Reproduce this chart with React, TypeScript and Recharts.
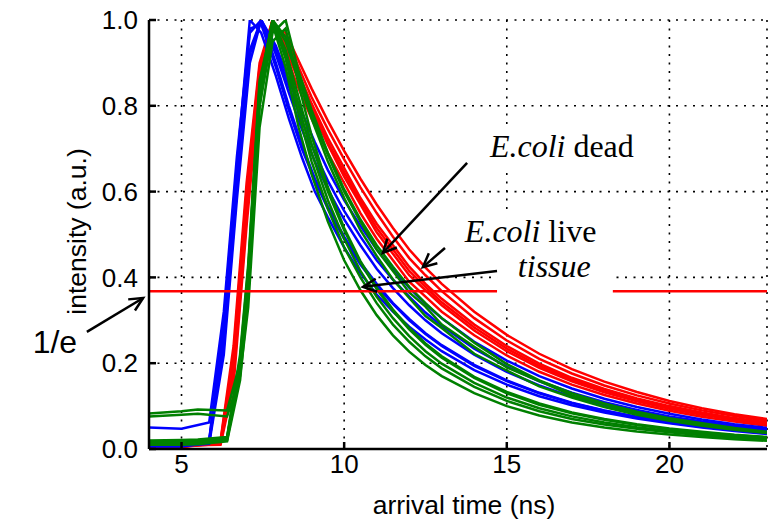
import {
  LineChart,
  Line,
  XAxis,
  YAxis,
  CartesianGrid,
  ReferenceLine,
  ReferenceArea,
  ReferenceDot,
  Label,
} from 'recharts';

// E.coli dead (red)
const redTimes = [4, 5, 6.2, 6.6, 7.0, 7.4, 7.8, 8.2, 8.6, 9.0, 9.5, 10, 10.5, 11, 11.5, 12, 12.5, 13, 14, 15, 16, 17, 18, 19, 20, 21, 22, 23];
const redCurves = [
  [0.004, 0.004, 0.02, 0.24, 0.62, 0.9, 1.0, 0.92, 0.84, 0.77, 0.69, 0.62, 0.55, 0.49, 0.44, 0.39, 0.355, 0.32, 0.265, 0.218, 0.18, 0.15, 0.126, 0.106, 0.089, 0.075, 0.064, 0.054],
  [0.006, 0.006, 0.015, 0.2, 0.58, 0.88, 1.0, 0.93, 0.86, 0.79, 0.71, 0.635, 0.57, 0.505, 0.455, 0.405, 0.37, 0.335, 0.276, 0.228, 0.189, 0.158, 0.132, 0.111, 0.094, 0.08, 0.068, 0.058],
  [0.005, 0.005, 0.012, 0.18, 0.56, 0.87, 0.99, 0.95, 0.875, 0.805, 0.725, 0.655, 0.585, 0.525, 0.475, 0.425, 0.385, 0.35, 0.29, 0.24, 0.199, 0.166, 0.14, 0.118, 0.1, 0.085, 0.072, 0.062],
  [0.008, 0.008, 0.01, 0.15, 0.52, 0.85, 0.99, 0.96, 0.89, 0.82, 0.745, 0.675, 0.61, 0.55, 0.495, 0.445, 0.405, 0.368, 0.305, 0.253, 0.21, 0.176, 0.148, 0.125, 0.106, 0.09, 0.077, 0.066],
  [0.004, 0.005, 0.014, 0.17, 0.54, 0.86, 0.98, 0.97, 0.905, 0.84, 0.765, 0.695, 0.63, 0.57, 0.515, 0.465, 0.423, 0.385, 0.32, 0.266, 0.222, 0.186, 0.157, 0.133, 0.112, 0.095, 0.081, 0.07],
  [0.006, 0.006, 0.018, 0.22, 0.6, 0.89, 1.0, 0.94, 0.865, 0.795, 0.715, 0.645, 0.578, 0.515, 0.465, 0.415, 0.378, 0.342, 0.283, 0.234, 0.194, 0.162, 0.136, 0.114, 0.097, 0.082, 0.07, 0.06],
];

// E.coli live (blue)
const blueTimes = [4, 5, 5.85, 6.3, 6.7, 7.1, 7.45, 7.9, 8.3, 8.7, 9.1, 9.5, 10, 10.5, 11, 11.5, 12, 12.5, 13, 14, 15, 16, 17, 18, 19, 20, 21, 22, 23];
const blueCurves = [
  [0.008, 0.008, 0.02, 0.3, 0.66, 1.0, 0.97, 0.87, 0.77, 0.68, 0.6, 0.54, 0.47, 0.41, 0.36, 0.32, 0.285, 0.255, 0.228, 0.184, 0.15, 0.123, 0.102, 0.085, 0.071, 0.06, 0.05, 0.042, 0.035],
  [0.05, 0.047, 0.062, 0.32, 0.68, 0.97, 1.0, 0.9, 0.8, 0.71, 0.63, 0.565, 0.495, 0.435, 0.385, 0.34, 0.303, 0.27, 0.242, 0.196, 0.16, 0.131, 0.108, 0.09, 0.075, 0.063, 0.053, 0.045, 0.038],
  [0.006, 0.006, 0.015, 0.26, 0.62, 0.93, 1.0, 0.92, 0.83, 0.745, 0.67, 0.605, 0.535, 0.475, 0.42, 0.375, 0.335, 0.3, 0.27, 0.22, 0.18, 0.148, 0.122, 0.101, 0.084, 0.07, 0.059, 0.05, 0.042],
  [0.01, 0.01, 0.018, 0.24, 0.6, 0.92, 1.0, 0.93, 0.845, 0.765, 0.69, 0.625, 0.555, 0.495, 0.44, 0.395, 0.355, 0.318, 0.287, 0.234, 0.192, 0.158, 0.131, 0.109, 0.091, 0.076, 0.064, 0.054, 0.046],
  [0.007, 0.007, 0.012, 0.22, 0.58, 0.9, 1.0, 0.94, 0.86, 0.785, 0.715, 0.65, 0.58, 0.52, 0.465, 0.418, 0.376, 0.338, 0.305, 0.25, 0.206, 0.17, 0.141, 0.117, 0.098, 0.082, 0.069, 0.058, 0.049],
  [0.012, 0.012, 0.02, 0.28, 0.64, 0.98, 0.99, 0.89, 0.79, 0.7, 0.625, 0.56, 0.49, 0.43, 0.38, 0.338, 0.3, 0.268, 0.24, 0.194, 0.158, 0.13, 0.107, 0.089, 0.074, 0.062, 0.052, 0.044, 0.037],
];

// tissue (green)
const greenTimes = [4, 5, 5.5, 6.4, 6.8, 7.05, 7.4, 7.8, 8.2, 8.6, 9.0, 9.5, 10, 10.5, 11, 11.5, 12, 12.5, 13, 14, 15, 16, 17, 18, 19, 20, 21, 22, 23];
const greenCurves = [
  [0.083, 0.088, 0.092, 0.09, 0.2, 0.38, 0.8, 0.97, 1.0, 0.88, 0.79, 0.69, 0.605, 0.535, 0.475, 0.425, 0.378, 0.34, 0.305, 0.248, 0.198, 0.16, 0.13, 0.106, 0.087, 0.072, 0.06, 0.049, 0.04],
  [0.076, 0.08, 0.082, 0.076, 0.17, 0.33, 0.75, 0.95, 0.98, 0.85, 0.73, 0.61, 0.515, 0.438, 0.376, 0.325, 0.282, 0.246, 0.216, 0.168, 0.133, 0.106, 0.085, 0.07, 0.058, 0.048, 0.04, 0.033, 0.028],
  [0.015, 0.016, 0.018, 0.025, 0.21, 0.42, 0.84, 1.0, 0.96, 0.87, 0.78, 0.685, 0.6, 0.53, 0.465, 0.415, 0.365, 0.332, 0.29, 0.238, 0.19, 0.158, 0.125, 0.104, 0.082, 0.07, 0.056, 0.047, 0.038],
  [0.012, 0.013, 0.014, 0.022, 0.19, 0.4, 0.83, 1.0, 0.91, 0.78, 0.67, 0.56, 0.47, 0.4, 0.34, 0.29, 0.25, 0.216, 0.188, 0.145, 0.112, 0.088, 0.07, 0.057, 0.047, 0.039, 0.032, 0.027, 0.023],
  [0.01, 0.01, 0.011, 0.018, 0.16, 0.36, 0.8, 0.99, 0.89, 0.75, 0.64, 0.53, 0.44, 0.37, 0.312, 0.265, 0.227, 0.196, 0.17, 0.13, 0.1, 0.078, 0.062, 0.05, 0.041, 0.034, 0.028, 0.023, 0.019],
  [0.02, 0.021, 0.022, 0.028, 0.22, 0.43, 0.86, 0.99, 0.92, 0.8, 0.69, 0.58, 0.49, 0.415, 0.355, 0.305, 0.263, 0.228, 0.199, 0.154, 0.12, 0.095, 0.076, 0.062, 0.051, 0.042, 0.035, 0.029, 0.025],
  [0.014, 0.015, 0.016, 0.02, 0.18, 0.38, 0.82, 1.0, 0.93, 0.82, 0.71, 0.6, 0.51, 0.435, 0.373, 0.322, 0.279, 0.243, 0.213, 0.166, 0.13, 0.103, 0.083, 0.068, 0.056, 0.046, 0.038, 0.032, 0.027],
  [0.017, 0.018, 0.019, 0.026, 0.2, 0.41, 0.85, 1.0, 0.95, 0.86, 0.77, 0.67, 0.585, 0.51, 0.45, 0.395, 0.352, 0.31, 0.282, 0.222, 0.183, 0.146, 0.12, 0.098, 0.08, 0.066, 0.054, 0.045, 0.037],
];

const xTicks = [5, 10, 15, 20];
const yTicks = [0, 0.2, 0.4, 0.6, 0.8, 1.0];
const oneOverE = 0.3679;

// annotations, in data coordinates
const notes = [
  { x: 14.48, y: 0.681, italic: 'E.coli', plain: ' dead' },
  { x: 13.71, y: 0.4825, italic: 'E.coli', plain: ' live' },
  { x: 15.34, y: 0.401, italic: 'tissue', plain: '' },
];
const noteBoxes = [
  { x1: 14.33, x2: 19.25, y1: 0.655, y2: 0.75 },
  { x1: 13.56, x2: 17.86, y1: 0.445, y2: 0.552 },
  { x1: 14.7, x2: 18.26, y1: 0.347, y2: 0.445 },
];
const arrows = [
  { from: { x: 13.78, y: 0.667 }, to: { x: 11.19, y: 0.457 } },
  { from: { x: 13.1, y: 0.4685 }, to: { x: 12.42, y: 0.424 } },
  { from: { x: 14.7, y: 0.415 }, to: { x: 10.58, y: 0.378 } },
  { from: { x: 2.09, y: 0.273 }, to: { x: 3.82, y: 0.352 } },
];
const oneOverELabel = { x: 1.79, y: 0.224 };
const oneOverEGap = [14.7, 18.26];

const SANS = '"Liberation Sans", Arial, sans-serif';
const SERIF = '"Liberation Serif", "Times New Roman", serif';

const toPoints = (times: number[], values: number[]) =>
  times.map((t, i) => ({ t, v: values[i] }));

function ArrowShape(props: any) {
  const { x1, y1, x2, y2 } = props;
  const ang = Math.atan2(y2 - y1, x2 - x1);
  const len = 15;
  const spread = 0.45;
  const ax = x2 - len * Math.cos(ang - spread);
  const ay = y2 - len * Math.sin(ang - spread);
  const bx = x2 - len * Math.cos(ang + spread);
  const by = y2 - len * Math.sin(ang + spread);
  return (
    <g>
      <line x1={x1} y1={y1} x2={x2} y2={y2} stroke="#000" strokeWidth={2.5} />
      <polyline points={`${ax},${ay} ${x2},${y2} ${bx},${by}`} fill="none" stroke="#000" strokeWidth={2.5} />
    </g>
  );
}

const noteShape = (italic: string, plain: string) => (p: any) => (
  <text x={p.cx} y={p.cy} fontFamily={SERIF} fontSize={32} fill="#000">
    <tspan fontStyle="italic">{italic}</tspan>
    {plain}
  </text>
);

const oneOverEShape = (p: any) => (
  <text x={p.cx} y={p.cy} fontFamily={SANS} fontSize={32} textAnchor="end" fill="#000">
    1/e
  </text>
);

const XTitle = (props: any) => {
  const vb = props.viewBox;
  return (
    <text x={vb.x + vb.width / 2 + 6} y={vb.y + 65} textAnchor="middle" fontFamily={SANS} fontSize={26.5} fill="#000">
      arrival time (ns)
    </text>
  );
};

const YTitle = (props: any) => {
  const vb = props.viewBox;
  const cx = vb.x + 77;
  const cy = vb.y + vb.height / 2 - 3;
  return (
    <text
      x={cx}
      y={cy}
      transform={`rotate(-90 ${cx} ${cy})`}
      textAnchor="middle"
      dominantBaseline="central"
      fontFamily={SANS}
      fontSize={26.5}
      fill="#000"
    >
      intensity (a.u.)
    </text>
  );
};

const tickStyle = { fill: '#000', fontSize: 26, fontFamily: SANS };
const axisLine = { stroke: '#000', strokeWidth: 2.5 };
const tickLine = { stroke: '#000', strokeWidth: 2.5 };

const lineStyle = { strokeWidth: 2.5, dot: false, activeDot: false, isAnimationActive: false } as const;

export default function App() {
  return (
    <div style={{ width: 774, height: 523, background: '#fff' }}>
      <style>{'body{margin:0;background:#fff}'}</style>
      <LineChart width={774} height={523} margin={{ top: 20, right: 7, bottom: 0, left: 0 }}>
        <CartesianGrid stroke="#000" strokeWidth={1.6} strokeDasharray="2 6.5" />
        <XAxis
          dataKey="t"
          type="number"
          domain={[4, 23]}
          ticks={xTicks}
          interval={0}
          allowDataOverflow
          height={74}
          axisLine={axisLine}
          tickLine={tickLine}
          tickSize={-7}
          tickMargin={13}
          tick={tickStyle}
          label={<Label content={XTitle} />}
        />
        <XAxis
          xAxisId="top"
          orientation="top"
          dataKey="t"
          type="number"
          domain={[4, 23]}
          ticks={xTicks}
          interval={0}
          allowDataOverflow
          height={0}
          axisLine={axisLine}
          tickLine={tickLine}
          tickSize={-7}
          tick={false}
        />
        <YAxis
          type="number"
          domain={[0, 1]}
          ticks={yTicks}
          interval={0}
          allowDataOverflow
          width={149}
          axisLine={axisLine}
          tickLine={tickLine}
          tickSize={-7}
          tickMargin={18}
          tick={tickStyle}
          tickFormatter={(v: number) => v.toFixed(1)}
          label={<Label content={YTitle} />}
        />
        <YAxis
          yAxisId="right"
          orientation="right"
          type="number"
          domain={[0, 1]}
          ticks={yTicks}
          interval={0}
          allowDataOverflow
          width={0}
          axisLine={axisLine}
          tickLine={tickLine}
          tickSize={-7}
          tick={false}
        />

        {noteBoxes.map((b, i) => (
          <ReferenceArea
            key={`box-${i}`}
            x1={b.x1}
            x2={b.x2}
            y1={b.y1}
            y2={b.y2}
            fill="#ffffff"
            fillOpacity={1}
            stroke="none"
            ifOverflow="visible"
          />
        ))}

        {redCurves.map((vals, i) => (
          <Line key={`red-${i}`} data={toPoints(redTimes, vals)} dataKey="v" type="linear" stroke="#ff0000" {...lineStyle} />
        ))}
        {blueCurves.map((vals, i) => (
          <Line key={`blue-${i}`} data={toPoints(blueTimes, vals)} dataKey="v" type="linear" stroke="#0000ff" {...lineStyle} />
        ))}
        {greenCurves.map((vals, i) => (
          <Line key={`green-${i}`} data={toPoints(greenTimes, vals)} dataKey="v" type="linear" stroke="#008000" {...lineStyle} />
        ))}

        <ReferenceLine
          segment={[{ x: 4, y: oneOverE }, { x: oneOverEGap[0], y: oneOverE }]}
          stroke="#ff0000"
          strokeWidth={2.5}
          ifOverflow="visible"
        />
        <ReferenceLine
          segment={[{ x: oneOverEGap[1], y: oneOverE }, { x: 23, y: oneOverE }]}
          stroke="#ff0000"
          strokeWidth={2.5}
          ifOverflow="visible"
        />

        {arrows.map((a, i) => (
          <ReferenceLine key={`arrow-${i}`} segment={[a.from, a.to]} ifOverflow="visible" shape={ArrowShape} />
        ))}

        {notes.map((n, i) => (
          <ReferenceDot key={`note-${i}`} x={n.x} y={n.y} r={1} ifOverflow="visible" shape={noteShape(n.italic, n.plain)} />
        ))}
        <ReferenceDot x={oneOverELabel.x} y={oneOverELabel.y} r={1} ifOverflow="visible" shape={oneOverEShape} />
      </LineChart>
    </div>
  );
}
